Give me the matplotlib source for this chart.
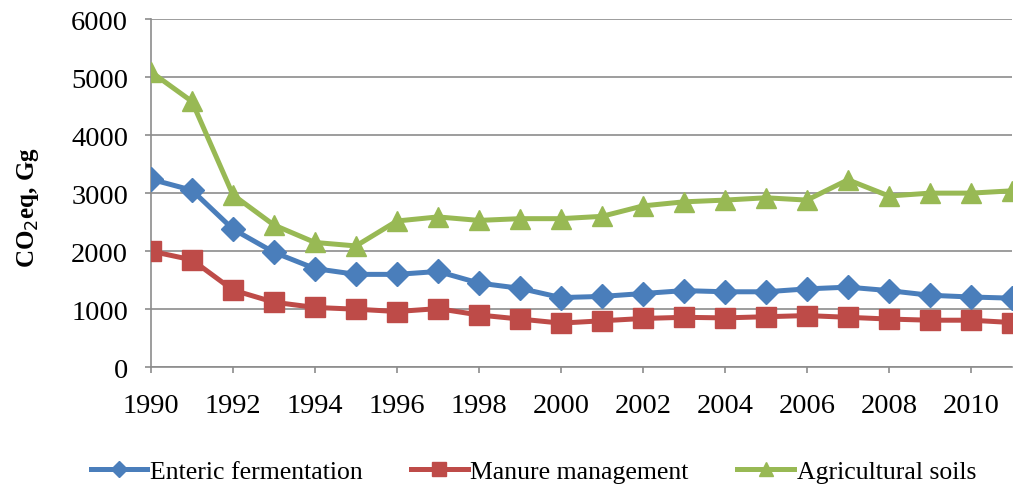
import matplotlib.pyplot as plt

plt.rcParams['font.family'] = ['Liberation Serif', 'DejaVu Serif']

years = list(range(1990, 2012))

enteric = [3240, 3050, 2380, 1980, 1700, 1600, 1600, 1650, 1450, 1360,
           1200, 1220, 1270, 1320, 1300, 1300, 1350, 1380, 1320, 1240,
           1210, 1190]
manure = [2000, 1850, 1330, 1120, 1030, 1000, 960, 1010, 900, 830,
          760, 800, 840, 860, 850, 870, 890, 860, 830, 810,
          810, 770]
soils = [5090, 4580, 2970, 2450, 2150, 2090, 2520, 2590, 2530, 2560,
         2560, 2600, 2780, 2850, 2880, 2920, 2880, 3230, 2950, 3000,
         3000, 3040]

fig = plt.figure(figsize=(10.13, 4.89), dpi=100)
ax = fig.add_axes([0.149, 0.247, 0.850, 0.712])

ax.plot(years, enteric, color='#4a7ebb', lw=3.6, marker='D', ms=12,
        label='Enteric fermentation', zorder=3)
ax.plot(years, manure, color='#be4b48', lw=3.6, marker='s', ms=14,
        label='Manure management', zorder=3)
ax.plot(years, soils, color='#98b954', lw=3.6, marker='^', ms=15,
        label='Agricultural soils', zorder=3)

ax.set_xlim(1990, 2011)
ax.set_ylim(0, 6000)
ax.set_xticks(range(1990, 2011, 2))
ax.set_yticks(range(0, 6001, 1000))
ax.yaxis.grid(True, color='#8c8c8c', lw=1.2)
ax.set_axisbelow(True)
for s in ['top', 'right']:
    ax.spines[s].set_visible(False)
for s in ['left', 'bottom']:
    ax.spines[s].set_color('#8c8c8c')
    ax.spines[s].set_linewidth(1.2)
ax.tick_params(axis='both', colors='#8c8c8c', width=1.2, length=4.5,
               labelsize=20.5, labelcolor='black')
ax.tick_params(axis='x', pad=14)
ax.tick_params(axis='y', pad=12)
ax.set_ylabel('CO$_2$eq, Gg', fontsize=18, fontweight='bold')
ax.yaxis.set_label_coords(-0.128, 0.46)

ax.legend(loc='upper center', bbox_to_anchor=(0.444, -0.2), ncol=3,
          frameon=False, fontsize=18.5, handlelength=2.2, handletextpad=0.1,
          columnspacing=1.9, markerscale=0.7)

fig.savefig('out.png', dpi=100)
